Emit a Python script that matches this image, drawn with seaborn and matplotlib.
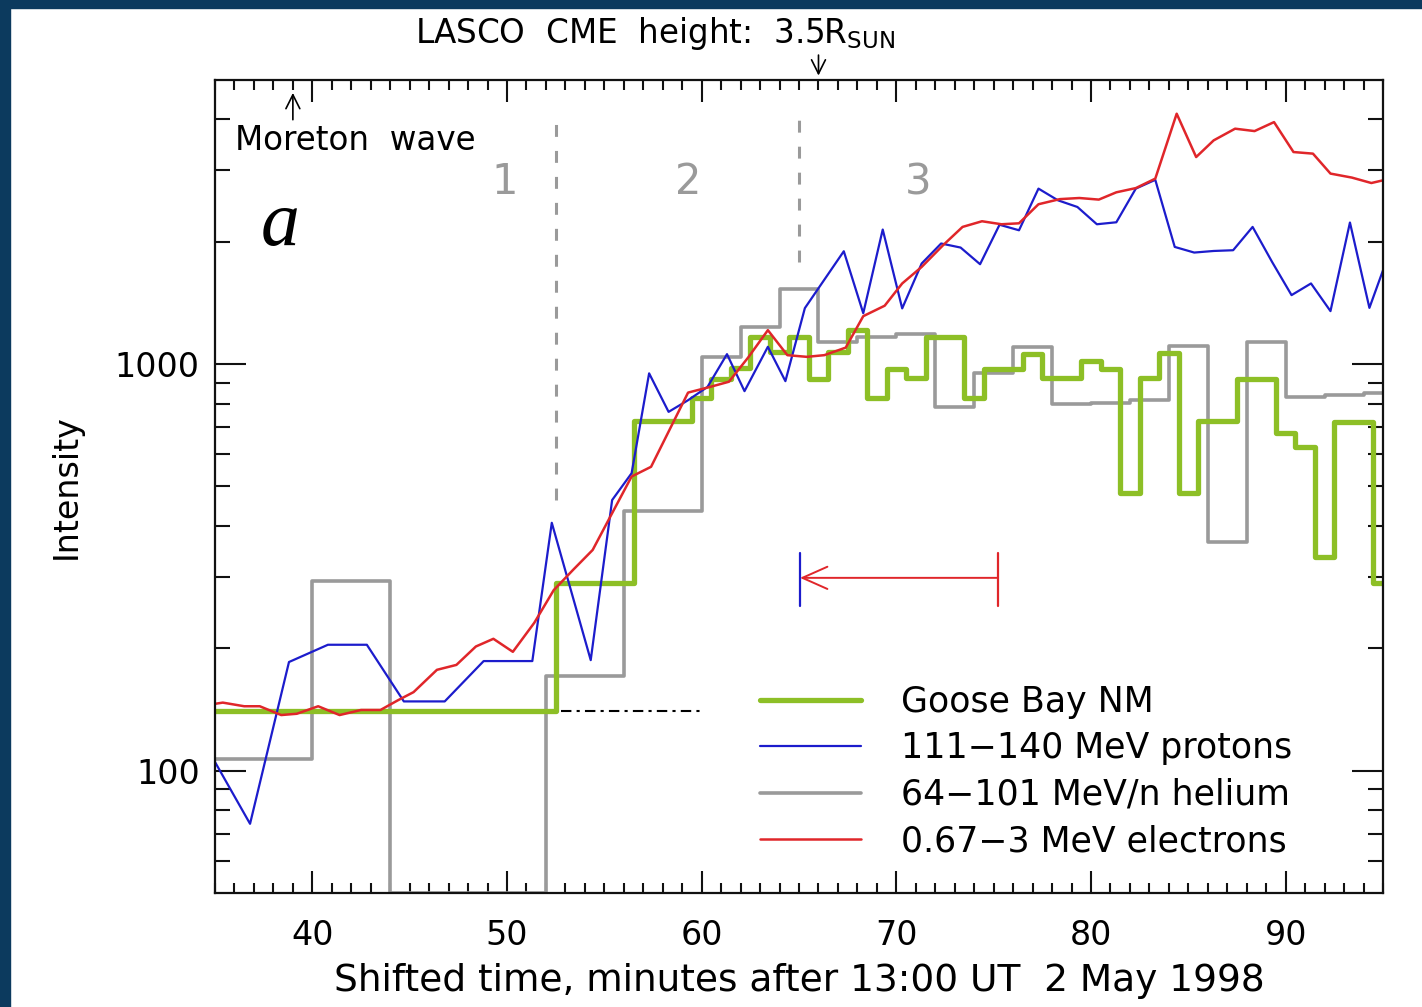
#!/usr/bin/env python3
"""
GLE of 2 May 1998: NM, protons, helium and electrons
"""
import seaborn as sns
import matplotlib.pyplot as plt
from matplotlib.lines import Line2D
from matplotlib.patches import Rectangle
from matplotlib.ticker import FixedLocator, NullFormatter, FixedFormatter

# Goose Bay NM (step bins: edges in minutes, one value per bin)
nm_edges = [35, 52.5, 56.5, 59.5, 60.5, 61.5, 62.5, 63.5, 64.5, 65.5, 66.5,
            67.5, 68.5, 69.5, 70.5, 71.5, 73.5, 74.5, 76.5, 77.5, 79.5, 80.5,
            81.5, 82.5, 83.5, 84.5, 85.5, 87.5, 89.5, 90.5, 91.5, 92.5, 94.5, 95]
nm_vals = [140, 290, 725, 825, 920, 978, 1165, 1070, 1165, 920, 1070, 1210,
           825, 972, 924, 1165, 825, 972, 1060, 924, 1017, 972, 482, 924, 1064,
           482, 724, 920, 677, 625, 336, 720, 290]

# 64-101 MeV/n helium (step bins)
he_edges = [35, 40, 44, 52, 56, 60, 62, 64, 66, 68, 70, 72, 74, 76, 78, 80,
            82, 84, 86, 88, 90, 92, 94, 95]
he_vals = [107, 293, 50, 171, 434, 1040, 1233, 1529, 1133, 1165, 1185, 784,
           951, 1101, 797, 801, 815, 1107, 365, 1133, 830, 839, 849]

# 111-140 MeV protons
p_time = [35.0, 36.8, 38.8, 40.8, 42.8, 44.7, 46.8, 48.8, 51.3, 52.3, 54.3,
          55.4, 56.4, 57.3, 58.3, 59.3, 60.3, 61.3, 62.2, 63.4, 64.3, 65.3,
          67.3, 68.3, 69.3, 70.3, 71.3, 72.3, 73.3, 74.3, 75.3, 76.3, 77.3,
          78.3, 79.3, 80.3, 81.3, 82.3, 83.3, 84.3, 85.3, 86.3, 87.3, 88.3,
          89.3, 90.3, 91.3, 92.3, 93.3, 94.3, 95.0]
p_int = [105, 74, 185, 204, 204, 148, 148, 186, 186, 407, 187, 463, 539, 949,
         763, 815, 879, 1058, 858, 1103, 908, 1373, 1895, 1334, 2143, 1371,
         1768, 1980, 1935, 1761, 2202, 2134, 2702, 2529, 2435, 2208, 2233,
         2702, 2840, 1942, 1881, 1898, 1906, 2175, 1784, 1478, 1579, 1350,
         2230, 1375, 1702]

# 0.67-3 MeV electrons
e_time = [35.0, 35.4, 36.5, 37.3, 38.4, 39.2, 40.3, 41.4, 42.5, 43.5, 44.4,
          45.2, 46.4, 47.4, 48.4, 49.3, 50.3, 51.4, 52.4, 53.4, 54.4, 55.3,
          56.4, 57.4, 59.3, 60.4, 61.4, 62.4, 63.4, 64.4, 65.4, 66.3, 67.4,
          68.3, 69.4, 70.3, 71.3, 72.4, 73.4, 74.4, 75.4, 76.3, 77.3, 78.4,
          79.4, 80.4, 81.3, 82.3, 83.3, 84.4, 85.4, 86.3, 87.4, 88.4, 89.4,
          90.4, 91.4, 92.3, 93.4, 94.4, 95.0]
e_int = [146, 147, 144, 144, 137, 138, 144, 137, 141, 141, 149, 156, 177, 182,
         202, 211, 196, 231, 278, 312, 349, 421, 529, 559, 851, 878, 905, 1040,
         1212, 1052, 1042, 1052, 1098, 1312, 1392, 1579, 1734, 1961, 2175,
         2246, 2208, 2220, 2473, 2546, 2562, 2539, 2646, 2710, 2859, 4130,
         3231, 3551, 3794, 3743, 3938, 3324, 3294, 2942, 2876, 2789, 2832]

labels = ["Goose Bay NM", "111\u2212140 MeV protons",
          "64\u2212101 MeV/n helium", "0.67\u22123 MeV electrons"]

GREEN = "#8dbf26"
BLUE = "#1c1ccc"
GRAY = "#9a9a9a"
RED = "#e0262a"

sns.set_style("white")
plt.rcParams["font.family"] = ["DejaVu Sans"]
plt.rcParams["mathtext.default"] = "regular"
for key in ["text.color", "axes.labelcolor", "xtick.color", "ytick.color"]:
    plt.rcParams[key] = "black"

fig = plt.figure(figsize=(14.22, 10.07), dpi=100)
ax = fig.add_axes([0.1512, 0.1132, 0.8214, 0.8074])
ax.set_yscale("log")

# step series: repeat last value so the final bin is drawn
sns.lineplot(x=he_edges, y=he_vals + he_vals[-1:], drawstyle="steps-post",
             color=GRAY, lw=2.6, estimator=None, sort=False, ax=ax)
sns.lineplot(x=nm_edges, y=nm_vals + nm_vals[-1:], drawstyle="steps-post",
             color=GREEN, lw=3.8, estimator=None, sort=False, ax=ax)
sns.lineplot(x=p_time, y=p_int, color=BLUE, lw=1.6, estimator=None,
             sort=False, ax=ax)
sns.lineplot(x=e_time, y=e_int, color=RED, lw=1.8, estimator=None,
             sort=False, ax=ax)

ax.set_xlim(35, 95)
ax.set_ylim(50, 5000)

# phase boundaries
ax.plot([52.5, 52.5], [463, 3977], color=GRAY, lw=2.2, ls=(0, (3.9, 4.6)))
ax.plot([65.0, 65.0], [1781, 3977], color=GRAY, lw=2.2, ls=(0, (3.9, 4.6)))
ax.plot([52.75, 60.0], [140, 140], color="black", lw=1.5,
        ls=(0, (5, 2.5, 1.5, 2.5)))
for t, s in [(49.9, "1"), (59.3, "2"), (71.1, "3")]:
    ax.text(t, 2800, s, color=GRAY, fontsize=30, ha="center", va="center")

ax.text(38.35, 2183, "a", fontsize=56, family="Liberation Serif",
        style="italic", ha="center", va="center")
ax.text(36.05, 3551, "Moreton  wave", fontsize=23.5, ha="left", va="center")
ax.annotate("", xy=(39.0, 4720), xytext=(39.0, 3930),
            arrowprops=dict(arrowstyle="->,head_length=0.5,head_width=0.25",
                            color="black", lw=1.2, mutation_scale=20))
ax.annotate("", xy=(66.0, 1.002), xytext=(66.0, 1.034),
            xycoords=("data", "axes fraction"),
            textcoords=("data", "axes fraction"),
            arrowprops=dict(arrowstyle="->,head_length=0.5,head_width=0.25",
                            color="black", lw=1.2, mutation_scale=20),
            annotation_clip=False)
fig.text(655 / 1422, 1 - 33 / 1007, "LASCO  CME  height:  3.5R$_{SUN}$",
         fontsize=23.5, ha="center", va="center")

# timing arrow
ax.annotate("", xy=(65.05, 298), xytext=(75.2, 298),
            arrowprops=dict(arrowstyle="->,head_length=0.9,head_width=0.4",
                            color=RED, lw=1.4, mutation_scale=20,
                            shrinkA=0, shrinkB=0))
ax.plot([75.2, 75.2], [254, 343], color=RED, lw=1.6)
ax.plot([65.05, 65.05], [254, 343], color=BLUE, lw=1.6)

# axes styling
for sp in ax.spines.values():
    sp.set_linewidth(1.6)
    sp.set_color("#111111")
ax.xaxis.set_major_locator(FixedLocator([40, 50, 60, 70, 80, 90]))
ax.xaxis.set_minor_locator(FixedLocator(list(range(35, 96))))
ax.yaxis.set_major_locator(FixedLocator([100, 1000]))
ax.yaxis.set_major_formatter(FixedFormatter(["100", "1000"]))
ax.yaxis.set_minor_locator(FixedLocator([60, 70, 80, 90, 200, 300, 400, 500,
                                         600, 700, 800, 900, 2000, 3000, 4000]))
ax.yaxis.set_minor_formatter(NullFormatter())
ax.tick_params(which="both", direction="in", top=True, right=True,
               bottom=True, left=True, width=1.5, color="#111111",
               labelsize=24, labelcolor="black")
ax.tick_params(axis="x", which="major", length=16, pad=19)
ax.tick_params(axis="x", which="minor", length=7)
ax.tick_params(axis="y", which="major", length=22, pad=11)
ax.tick_params(axis="y", which="minor", length=11)

ax.set_xlabel("Shifted time, minutes after 13:00 UT  2 May 1998", fontsize=27)
ax.set_ylabel("Intensity", fontsize=24)
ax.xaxis.set_label_coords(0.5, -0.086)
ax.xaxis.label.set_va("top")
ax.yaxis.set_label_coords(-0.113, 0.5)

handles = [Line2D([], [], color=GREEN, lw=3.8), Line2D([], [], color=BLUE, lw=1.6),
           Line2D([], [], color=GRAY, lw=2.6), Line2D([], [], color=RED, lw=1.8)]
ax.legend(handles, labels, loc="upper left", bbox_to_anchor=(0.4666, 0.256),
          frameon=False, fontsize=25, handlelength=2.9, handletextpad=1.15,
          labelspacing=0.36, borderpad=0, borderaxespad=0)

# dark frame of the source slide
fig.patches.append(Rectangle((0, 1 - 8 / 1007), 1, 8 / 1007,
                             transform=fig.transFigure, color="#0c3a5e"))
fig.patches.append(Rectangle((0, 0), 10 / 1422, 1,
                             transform=fig.transFigure, color="#0c3a5e"))

fig.savefig("out.png", dpi=100)
